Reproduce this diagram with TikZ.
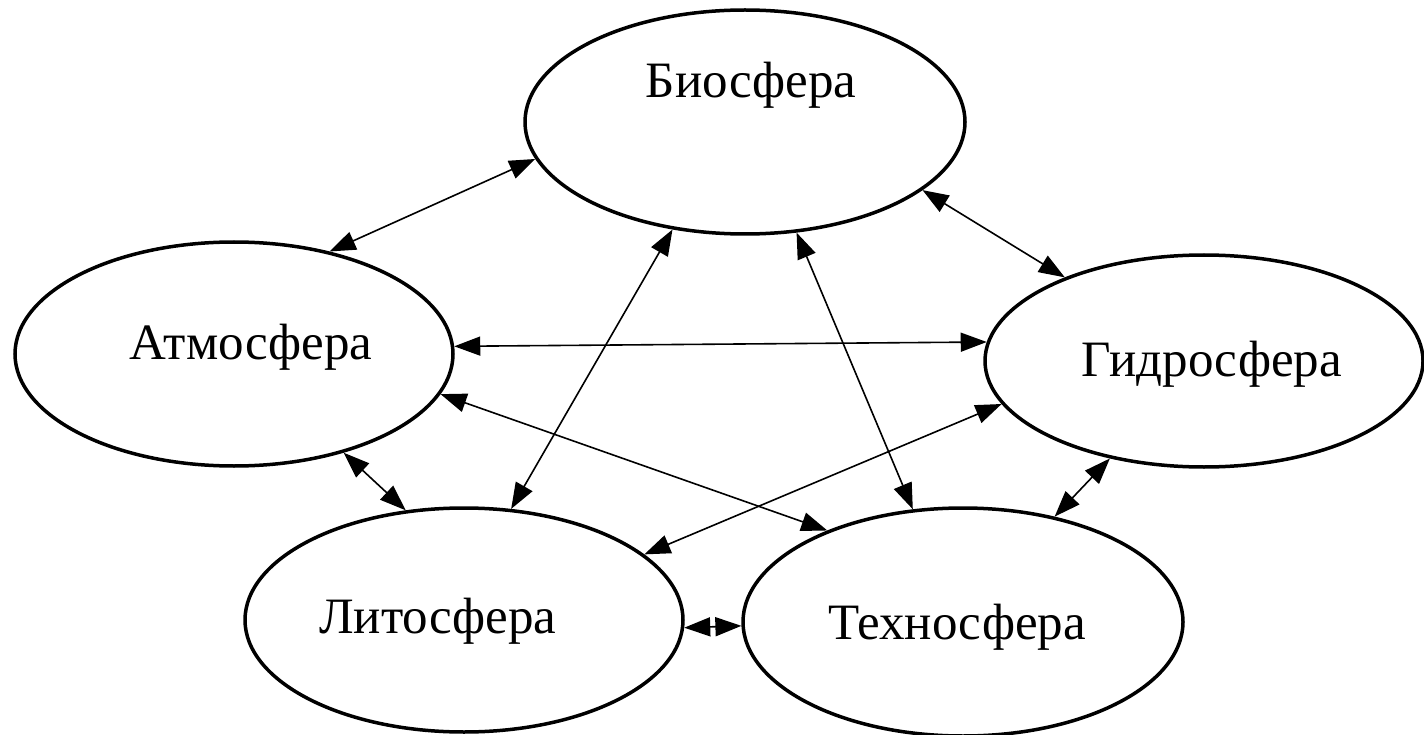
\documentclass[tikz,border=0pt]{standalone}
\usepackage{fontspec}
\setmainfont{Liberation Serif}
\usetikzlibrary{shapes.geometric,arrows.meta}
\begin{document}
\begin{tikzpicture}[x=1pt,y=-1pt,
  sphere/.style={draw=black,ellipse,line width=3.5pt,inner sep=0pt},
  lbl/.style={anchor=base,inner sep=0pt,font=\fontsize{51}{54}\selectfont},
  link/.style={line width=1.6pt,{Triangle[length=26pt,width=19pt]}-{Triangle[length=26pt,width=19pt]}}]
\useasboundingbox[fill=white] (0,0) rectangle (1424,735);
\node[sphere,minimum width=440pt,minimum height=224pt] (bio) at (745,122) {};
\node[sphere,minimum width=438pt,minimum height=224pt] (atm) at (234,354) {};
\node[sphere,minimum width=438pt,minimum height=212pt] (hyd) at (1204,361) {};
\node[sphere,minimum width=438pt,minimum height=224pt] (lit) at (464,620) {};
\node[sphere,minimum width=440pt,minimum height=228pt] (tech) at (963,622) {};
\node[lbl] (bioT) at (751,98) {Биосфера};
\node[lbl] (atmT) at (251,359) {Атмосфера};
\node[lbl] (hydT) at (1212,376) {Гидросфера};
\node[lbl] (litT) at (438,633) {Литосфера};
\node[lbl] (techT) at (957,639) {Техносфера};
\draw[link] (atm.47.8) -- (bio.190);
\draw[link] (bio.-21.5) -- (hyd.149.2);
\draw[link] (atm.2.6) -- (hyd.175.5);
\draw[link] (bio.236) -- (lit.67.3);
\draw[link] (bio.-65.7) -- (tech.114);
\draw[link] (atm.-11) -- (tech.146.3);
\draw[link] (hyd.192.8) -- (lit.20.6);
\draw[link] (atm.-42.3) -- (lit.118.6);
\draw[link] (hyd.226.9) -- (tech.49.4);
\draw[link] (lit.-2) -- (tech.181.6);
\end{tikzpicture}
\end{document}
